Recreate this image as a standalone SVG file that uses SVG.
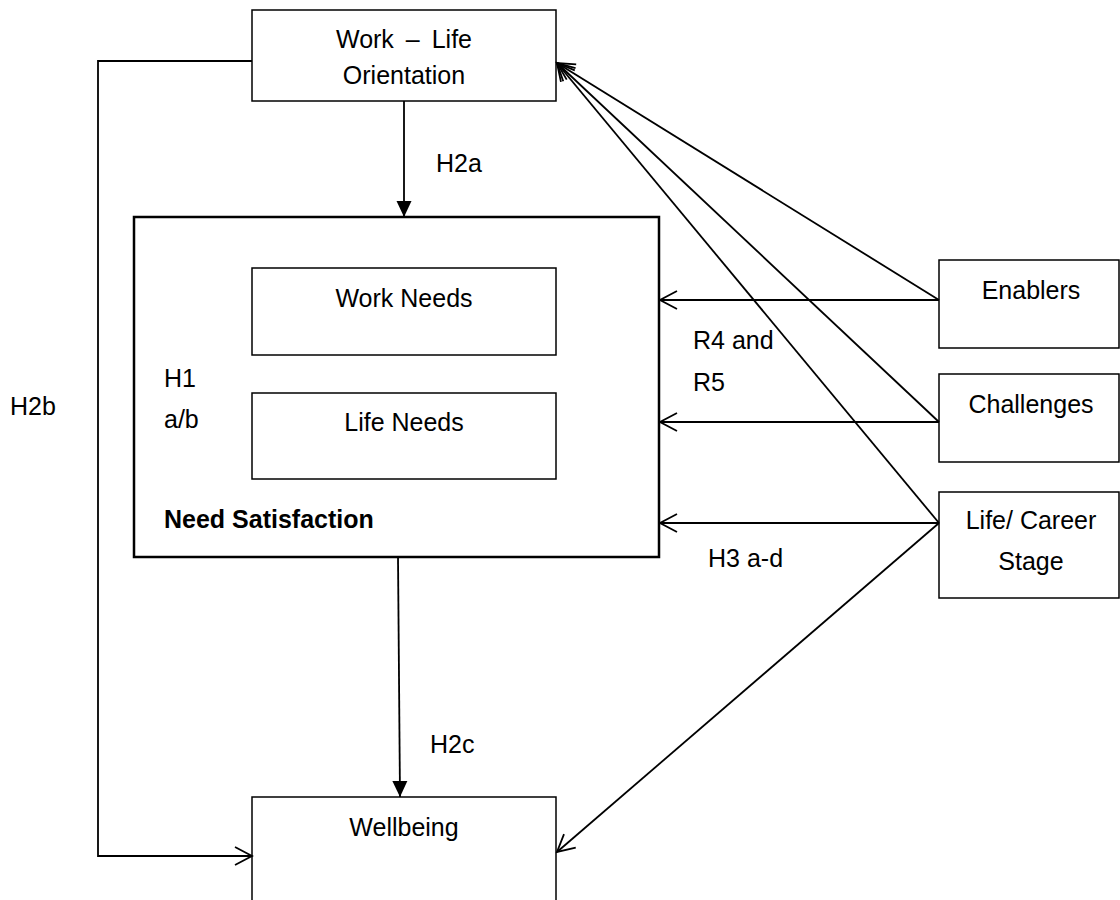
<svg xmlns="http://www.w3.org/2000/svg" width="1120" height="900" viewBox="0 0 1120 900">
<style>
  text { font-family: "Liberation Sans", Arial, sans-serif; font-size: 25px; fill: #000; }
  .c { text-anchor: middle; }
  .b { font-weight: bold; }
  .box { fill: #fff; stroke: #000; stroke-width: 1.5; }
  .main { fill: #fff; stroke: #000; stroke-width: 2.5; }
  .ln { fill: none; stroke: #000; stroke-width: 1.8; }
</style>
<defs>
  <marker id="open" markerUnits="userSpaceOnUse" markerWidth="40" markerHeight="40" viewBox="-20 -20 40 40" refX="0" refY="0" orient="auto">
    <path d="M-17,-9 L0,0 L-17,9" fill="none" stroke="#000" stroke-width="1.8"/>
  </marker>
  <marker id="solid" markerUnits="userSpaceOnUse" markerWidth="40" markerHeight="40" viewBox="-20 -20 40 40" refX="0" refY="0" orient="auto">
    <path d="M-16,-7.5 L0,0 L-16,7.5 Z" fill="#000" stroke="none"/>
  </marker>
</defs>
<rect width="1120" height="900" fill="#fff"/>

<g id="need-satisfaction">
  <rect class="main" x="134" y="217" width="525" height="340"/>
  <text x="164" y="387">H1</text>
  <text x="164" y="428">a/b</text>
  <text class="b" x="164" y="528">Need Satisfaction</text>
</g>
<g id="work-needs">
  <rect class="box" x="252" y="268" width="304" height="87"/>
  <text class="c" x="404" y="307">Work Needs</text>
</g>
<g id="life-needs">
  <rect class="box" x="252" y="393" width="304" height="86"/>
  <text class="c" x="404" y="431">Life Needs</text>
</g>
<g id="work-life-orientation">
  <rect class="box" x="252" y="10" width="304" height="91"/>
  <text class="c" x="404" y="48" word-spacing="5">Work – Life</text>
  <text class="c" x="404" y="84">Orientation</text>
</g>
<g id="wellbeing">
  <rect class="box" x="252" y="797" width="304" height="110"/>
  <text class="c" x="404" y="836">Wellbeing</text>
</g>
<g id="enablers">
  <rect class="box" x="939" y="260" width="180" height="88"/>
  <text class="c" x="1031" y="299">Enablers</text>
</g>
<g id="challenges">
  <rect class="box" x="939" y="374" width="180" height="88"/>
  <text class="c" x="1031" y="413">Challenges</text>
</g>
<g id="life-career-stage">
  <rect class="box" x="939" y="492" width="180" height="106"/>
  <text class="c" x="1031" y="529">Life/ Career</text>
  <text class="c" x="1031" y="570">Stage</text>
</g>

<g id="connectors">
  <line class="ln" x1="404" y1="101" x2="404" y2="217" marker-end="url(#solid)"/>
  <line class="ln" x1="398" y1="557" x2="400" y2="797" marker-end="url(#solid)"/>
  <polyline class="ln" points="252,61 98,61 98,856 252,856" marker-end="url(#open)"/>
  <line class="ln" x1="939" y1="300" x2="660" y2="300" marker-end="url(#open)"/>
  <line class="ln" x1="939" y1="422" x2="660" y2="422" marker-end="url(#open)"/>
  <line class="ln" x1="939" y1="523" x2="660" y2="523" marker-end="url(#open)"/>
  <line class="ln" x1="939" y1="300" x2="557" y2="63" marker-end="url(#open)"/>
  <line class="ln" x1="939" y1="422" x2="557" y2="63" marker-end="url(#open)"/>
  <line class="ln" x1="939" y1="523" x2="557" y2="63" marker-end="url(#open)"/>
  <line class="ln" x1="939" y1="523" x2="557" y2="852" marker-end="url(#open)"/>
</g>

<g id="labels">
  <text x="436" y="172">H2a</text>
  <text x="10" y="415">H2b</text>
  <text x="430" y="753">H2c</text>
  <text x="693" y="349">R4 and</text>
  <text x="693" y="391">R5</text>
  <text x="708" y="567">H3 a-d</text>
</g>
</svg>
